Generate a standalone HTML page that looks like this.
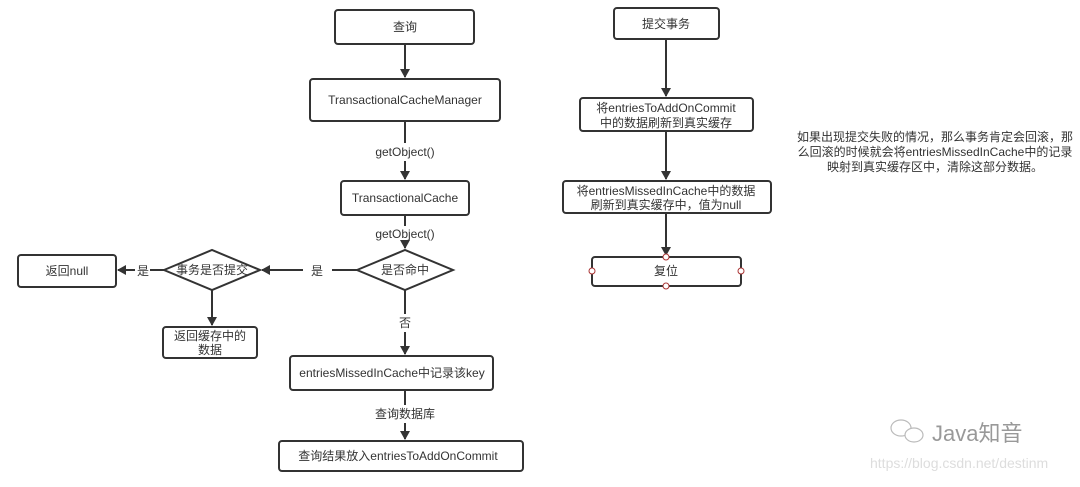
<!DOCTYPE html>
<html><head><meta charset="utf-8"><style>
body{margin:0;background:#fff;}
svg text{font-family:"Liberation Sans","Noto Sans CJK SC",sans-serif;font-size:12px;fill:#333;}
</style></head><body>
<svg width="1080" height="482" viewBox="0 0 1080 482" xmlns="http://www.w3.org/2000/svg">
<defs><marker id="a" markerWidth="10" markerHeight="10" refX="8" refY="5" orient="auto" markerUnits="userSpaceOnUse"><path d="M0,0 L9,5 L0,10 Z" fill="#333"/></marker></defs>
<g fill="#fff" stroke="#333" stroke-width="2">
<rect x="335" y="10" width="139" height="34" rx="3"/>
<rect x="310" y="79" width="190" height="42" rx="3"/>
<rect x="341" y="181" width="128" height="34" rx="3"/>
<path d="M357,270 L405,250 L453,270 L405,290 Z"/>
<path d="M164,270 L212,250 L260,270 L212,290 Z"/>
<rect x="18" y="255" width="98" height="32" rx="3"/>
<rect x="163" y="327" width="94" height="31" rx="3"/>
<rect x="290" y="356" width="203" height="34" rx="3"/>
<rect x="279" y="441" width="244" height="30" rx="3"/>
<rect x="614" y="8" width="105" height="31" rx="3"/>
<rect x="580" y="98" width="173" height="33" rx="3"/>
<rect x="563" y="181" width="208" height="32" rx="3"/>
<rect x="592" y="257" width="149" height="29" rx="3"/>
</g>
<g stroke="#333" stroke-width="2" fill="none">
<line x1="405" y1="44" x2="405" y2="77" marker-end="url(#a)"/>
<line x1="405" y1="121" x2="405" y2="143"/>
<line x1="405" y1="161" x2="405" y2="179" marker-end="url(#a)"/>
<line x1="405" y1="215" x2="405" y2="226"/>
<line x1="405" y1="242" x2="405" y2="248" marker-end="url(#a)"/>
<line x1="357" y1="270" x2="332" y2="270"/>
<line x1="303" y1="270" x2="262" y2="270" marker-end="url(#a)"/>
<line x1="164" y1="270" x2="150" y2="270"/>
<line x1="135" y1="270" x2="118" y2="270" marker-end="url(#a)"/>
<line x1="212" y1="290" x2="212" y2="325" marker-end="url(#a)"/>
<line x1="405" y1="290" x2="405" y2="314"/>
<line x1="405" y1="332" x2="405" y2="354" marker-end="url(#a)"/>
<line x1="405" y1="390" x2="405" y2="405"/>
<line x1="405" y1="423" x2="405" y2="439" marker-end="url(#a)"/>
<line x1="666" y1="39" x2="666" y2="96" marker-end="url(#a)"/>
<line x1="666" y1="131" x2="666" y2="179" marker-end="url(#a)"/>
<line x1="666" y1="213" x2="666" y2="255" marker-end="url(#a)"/>
</g>
<g fill="#fff" stroke="#a33" stroke-width="1">
<circle cx="666" cy="257" r="3"/><circle cx="666" cy="286" r="3"/><circle cx="592" cy="271" r="3"/><circle cx="741" cy="271" r="3"/>
</g>
<g text-anchor="middle">
<text x="405" y="31">查询</text>
<text x="405" y="104">TransactionalCacheManager</text>
<text x="405" y="156">getObject()</text>
<text x="405" y="202">TransactionalCache</text>
<text x="405" y="238">getObject()</text>
<text x="405" y="274">是否命中</text>
<text x="212" y="274">事务是否提交</text>
<text x="317" y="275">是</text>
<text x="143" y="275">是</text>
<text x="67" y="275">返回null</text>
<text x="210" y="340">返回缓存中的</text>
<text x="210" y="354">数据</text>
<text x="405" y="327">否</text>
<text x="392" y="377">entriesMissedInCache中记录该key</text>
<text x="405" y="418">查询数据库</text>
<text x="398" y="460">查询结果放入entriesToAddOnCommit</text>
<text x="666" y="28">提交事务</text>
<text x="666" y="112">将entriesToAddOnCommit</text>
<text x="666" y="127">中的数据刷新到真实缓存</text>
<text x="666" y="195">将entriesMissedInCache中的数据</text>
<text x="666" y="209">刷新到真实缓存中，值为null</text>
<text x="666" y="275">复位</text>
<text x="935" y="141" font-size="11">如果出现提交失败的情况，那么事务肯定会回滚，那</text>
<text x="935" y="156" font-size="11">么回滚的时候就会将entriesMissedInCache中的记录</text>
<text x="935" y="171" font-size="11">映射到真实缓存区中，清除这部分数据。</text>
</g>
<g stroke="#bbb" fill="#fff" stroke-width="1.2">
<ellipse cx="901" cy="428" rx="10" ry="8"/>
<ellipse cx="914" cy="435" rx="9" ry="7"/>
</g>
<text x="932" y="441" style="font-size:22px;fill:#999">Java知音</text>
<text x="870" y="468" style="font-size:14px;fill:#ddd">https://blog.csdn.net/destinm</text>
</svg>
</body></html>
